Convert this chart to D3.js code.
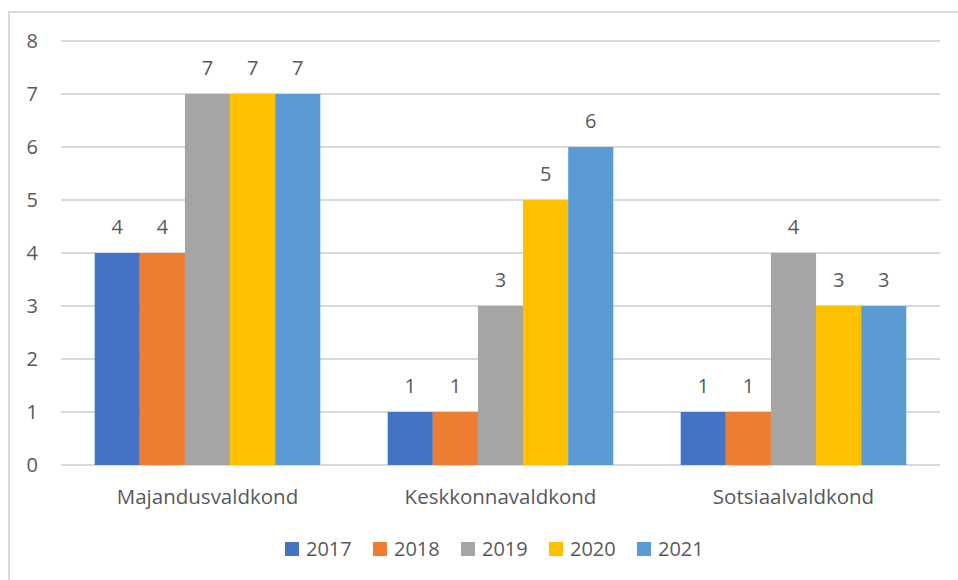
<!DOCTYPE html>
<html>
<head>
<meta charset="utf-8">
<script src="https://cdn.jsdelivr.net/npm/d3@7"></script>
<style>
  body { margin: 0; background: #fff; }
  text { font-family: "Open Sans", sans-serif; fill: #595959; }
</style>
</head>
<body>
<script>
// data
let categories = ["Majandusvaldkond", "Keskkonnavaldkond", "Sotsiaalvaldkond"]
let years = ["2017", "2018", "2019", "2020", "2021"]
let values = {
  "2017": [4, 1, 1],
  "2018": [4, 1, 1],
  "2019": [7, 3, 4],
  "2020": [7, 5, 3],
  "2021": [7, 6, 3]
}
let yTicks = [0, 1, 2, 3, 4, 5, 6, 7, 8]
let colors = ["#4472C4", "#ED7D31", "#A5A5A5", "#FFC000", "#5B9BD5"]

let w = 958, h = 580
let svg = d3.select("body").append("svg")
    .attr("width", w)
    .attr("height", h)

// chart border
svg.append("rect")
    .attr("x", 9)
    .attr("y", 12)
    .attr("width", w)
    .attr("height", h)
    .attr("fill", "none")
    .attr("stroke", "#d9d9d9")
    .attr("stroke-width", 2)

let plotLeft = 61, plotRight = 940, plotTop = 41, plotBottom = 465

let x0 = d3.scaleBand()
    .domain(categories)
    .range([plotLeft, plotRight])
    .paddingInner(0.23)
    .paddingOuter(0.115)
let x1 = d3.scaleBand()
    .domain(years)
    .range([0, x0.bandwidth()])
let y = d3.scaleLinear()
    .domain([0, 8])
    .range([plotBottom, plotTop])
let color = d3.scaleOrdinal().domain(years).range(colors)

// gridlines
svg.append("g")
    .selectAll("line")
    .data(yTicks)
    .enter()
    .append("line")
    .attr("x1", plotLeft)
    .attr("x2", plotRight)
    .attr("y1", d=>y(d))
    .attr("y2", d=>y(d))
    .attr("stroke", "#d9d9d9")
    .attr("stroke-width", 2)

// y labels
svg.append("g")
    .selectAll("text")
    .data(yTicks)
    .enter()
    .append("text")
    .attr("x", 38)
    .attr("y", d=>y(d))
    .attr("dy", "0.35em")
    .attr("text-anchor", "end")
    .style("font-size", "20px")
    .text(d=>d)

// bars
let rows = []
categories.forEach((c, i) => years.forEach(yr => rows.push({cat: c, year: yr, value: values[yr][i]})))

svg.append("g")
    .selectAll("rect")
    .data(rows)
    .enter()
    .append("rect")
    .attr("x", d=>x0(d.cat)+x1(d.year))
    .attr("y", d=>y(d.value))
    .attr("width", x1.bandwidth())
    .attr("height", d=>y(0)-y(d.value))
    .attr("fill", d=>color(d.year))

// value labels
svg.append("g")
    .selectAll("text")
    .data(rows)
    .enter()
    .append("text")
    .attr("x", d=>x0(d.cat)+x1(d.year)+x1.bandwidth()/2)
    .attr("y", d=>y(d.value)-19)
    .attr("text-anchor", "middle")
    .style("font-size", "20px")
    .text(d=>d.value)

// category labels
svg.append("g")
    .selectAll("text")
    .data(categories)
    .enter()
    .append("text")
    .attr("x", d=>x0(d)+x0.bandwidth()/2)
    .attr("y", 504)
    .attr("text-anchor", "middle")
    .style("font-size", "20.5px")
    .text(d=>d)

// legend
let legendX = d3.scalePoint()
    .domain(years)
    .range([285, 637])
let legend = svg.append("g")
    .selectAll("g")
    .data(years)
    .enter()
    .append("g")
    .attr("transform", d=>"translate(" + legendX(d) + ",549)")
legend.append("rect")
    .attr("x", 0)
    .attr("y", -7)
    .attr("width", 14)
    .attr("height", 14)
    .attr("fill", d=>color(d))
legend.append("text")
    .attr("x", 21)
    .attr("y", 0)
    .attr("dy", "0.36em")
    .style("font-size", "20px")
    .text(d=>d)
</script>
</body>
</html>
